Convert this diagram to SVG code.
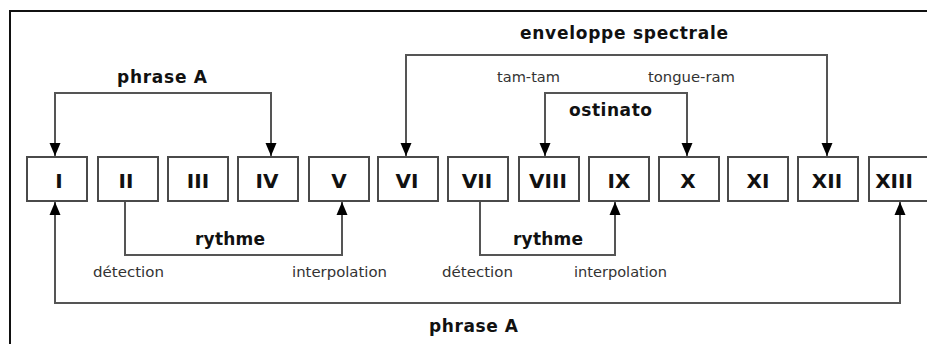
<svg xmlns="http://www.w3.org/2000/svg" width="927" height="344" viewBox="0 0 927 344">
<style>
.frame{fill:none;stroke:#111;stroke-width:2}
.box{fill:#fff;stroke:#4a4a4a;stroke-width:2}
.num{font-family:"DejaVu Sans",sans-serif;font-weight:bold;font-size:20px;fill:#111;text-anchor:middle}
.conn{fill:none;stroke:#555;stroke-width:2}
.big{font-family:"DejaVu Sans",sans-serif;font-weight:bold;font-size:17px;fill:#111}
.small{font-family:"DejaVu Sans",sans-serif;font-size:14px;fill:#333}
</style>
<defs>
<marker id="ah" markerUnits="userSpaceOnUse" markerWidth="13" markerHeight="12" refX="13" refY="6" orient="auto-start-reverse">
<path d="M0,0.5 L13,6 L0,11.5 z" fill="#000"/>
</marker>
</defs>
<rect width="927" height="344" fill="#fff"/>
<rect class="frame" x="10" y="11" width="940" height="360"/>
<g id="node-I"><rect class="box" x="27" y="157" width="60" height="44"/><text class="num" x="59" y="188">I</text></g>
<g id="node-II"><rect class="box" x="98" y="157" width="60" height="44"/><text class="num" x="126" y="188">II</text></g>
<g id="node-III"><rect class="box" x="168" y="157" width="60" height="44"/><text class="num" x="198" y="188">III</text></g>
<g id="node-IV"><rect class="box" x="238" y="157" width="60" height="44"/><text class="num" x="267" y="188">IV</text></g>
<g id="node-V"><rect class="box" x="309" y="157" width="60" height="44"/><text class="num" x="339" y="188">V</text></g>
<g id="node-VI"><rect class="box" x="378" y="157" width="60" height="44"/><text class="num" x="407" y="188">VI</text></g>
<g id="node-VII"><rect class="box" x="448" y="157" width="60" height="44"/><text class="num" x="477" y="188">VII</text></g>
<g id="node-VIII"><rect class="box" x="519" y="157" width="60" height="44"/><text class="num" x="548" y="188">VIII</text></g>
<g id="node-IX"><rect class="box" x="589" y="157" width="60" height="44"/><text class="num" x="619" y="188">IX</text></g>
<g id="node-X"><rect class="box" x="659" y="157" width="60" height="44"/><text class="num" x="688" y="188">X</text></g>
<g id="node-XI"><rect class="box" x="728" y="157" width="60" height="44"/><text class="num" x="758" y="188">XI</text></g>
<g id="node-XII"><rect class="box" x="798" y="157" width="60" height="44"/><text class="num" x="827" y="188">XII</text></g>
<g id="node-XIII"><rect class="box" x="869" y="157" width="60" height="44"/><text class="num" x="894" y="188">XIII</text></g>
<g id="connectors">
<path class="conn" d="M55,156 V93 H271 V156" marker-start="url(#ah)" marker-end="url(#ah)"/>
<path class="conn" d="M406,156 V55 H827 V156" marker-start="url(#ah)" marker-end="url(#ah)"/>
<path class="conn" d="M545,156 V93 H687 V156" marker-start="url(#ah)" marker-end="url(#ah)"/>
<path class="conn" d="M125,202 V255 H342 V202" marker-end="url(#ah)"/>
<path class="conn" d="M480,202 V255 H615 V202" marker-end="url(#ah)"/>
<path class="conn" d="M55,202 V303 H900 V202" marker-start="url(#ah)" marker-end="url(#ah)"/>
</g>
<g id="labels">
<text class="big" x="117" y="83" textLength="90" lengthAdjust="spacing">phrase A</text>
<text class="big" x="429" y="332" textLength="89" lengthAdjust="spacing">phrase A</text>
<text class="big" x="520" y="39" textLength="208" lengthAdjust="spacing">enveloppe spectrale</text>
<text class="big" x="569" y="116" textLength="83" lengthAdjust="spacing">ostinato</text>
<text class="small" x="497" y="82" textLength="63" lengthAdjust="spacingAndGlyphs">tam-tam</text>
<text class="small" x="648" y="82" textLength="87" lengthAdjust="spacingAndGlyphs">tongue-ram</text>
<text class="big" x="195" y="245" textLength="70" lengthAdjust="spacing">rythme</text>
<text class="big" x="513" y="245" textLength="70" lengthAdjust="spacing">rythme</text>
<text class="small" x="93" y="277" textLength="71" lengthAdjust="spacingAndGlyphs">détection</text>
<text class="small" x="442" y="277" textLength="71" lengthAdjust="spacingAndGlyphs">détection</text>
<text class="small" x="292" y="277" textLength="95" lengthAdjust="spacingAndGlyphs">interpolation</text>
<text class="small" x="574" y="277" textLength="93" lengthAdjust="spacingAndGlyphs">interpolation</text>
</g>
</svg>
